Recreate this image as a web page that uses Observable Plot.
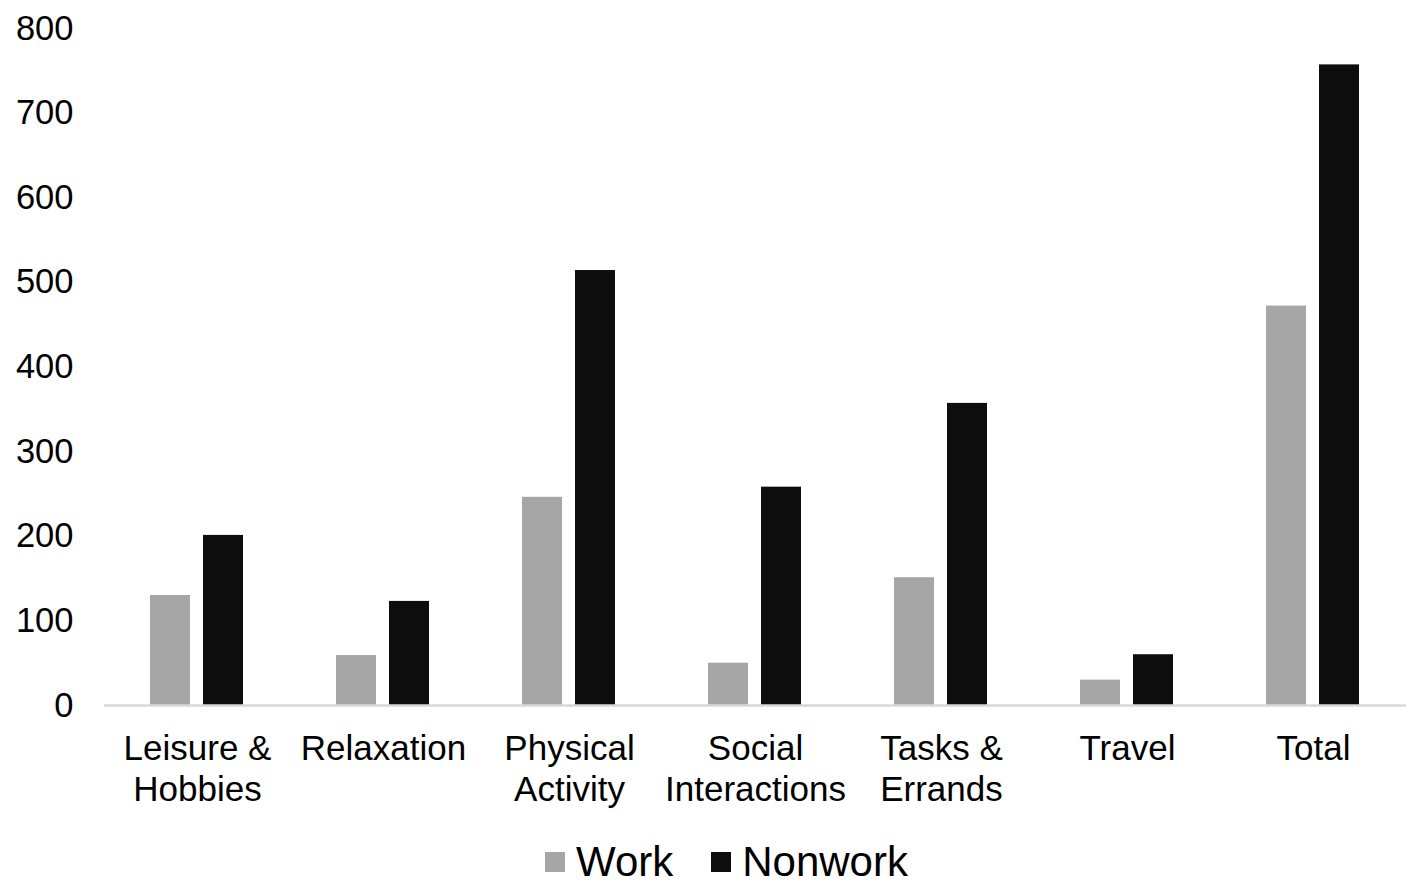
<!DOCTYPE html>
<html>
<head>
<meta charset="utf-8">
<script src="https://cdn.jsdelivr.net/npm/d3@7"></script>
<script src="https://cdn.jsdelivr.net/npm/@observablehq/plot@0.6"></script>
<style>
  html, body { margin: 0; padding: 0; background: #fff; }
  #chart svg { display: block; }
  .lg-swatch { margin-right: 38px !important; }
  .lg-swatch > svg { margin-right: 11px !important; }
  #legend { margin-top: 13px; margin-left: 545px; }
</style>
</head>
<body>
<div id="chart"></div>
<div id="legend"></div>
<script>
const categories = ["Leisure & Hobbies", "Relaxation", "Physical Activity", "Social Interactions", "Tasks & Errands", "Travel", "Total"];
const tickLabels = ["Leisure &\nHobbies", "Relaxation", "Physical\nActivity", "Social\nInteractions", "Tasks &\nErrands", "Travel", "Total"];
const series = ["Work", "Nonwork"];
const work = [130, 59, 246, 50, 151, 30, 472];
const nonwork = [201, 123, 514, 258, 357, 60, 757];
const yTicks = [0, 100, 200, 300, 400, 500, 600, 700, 800];
const colors = ["#a6a6a6", "#0d0d0d"];

const data = [];
categories.forEach((c, i) => {
  data.push({category: c, series: "Work", value: work[i]});
  data.push({category: c, series: "Nonwork", value: nonwork[i]});
});
const labelOf = new Map(categories.map((c, i) => [c, tickLabels[i]]));

const font = "'Liberation Sans', Arial, Helvetica, sans-serif";

const chart = Plot.plot({
  width: 1418,
  height: 825,
  marginTop: 28,
  marginBottom: 120,
  marginLeft: 104,
  marginRight: 12,
  style: {fontFamily: font, fontSize: "34px", color: "#000", background: "#fff"},
  fx: {domain: categories, padding: 0},
  x: {domain: series, paddingInner: 0.24, paddingOuter: 0.87, align: 0.5, axis: null},
  y: {domain: [0, 800]},
  color: {domain: series, range: colors},
  marks: [
    Plot.barY(data, {fx: "category", x: "series", y: "value", fill: "series"}),
    Plot.ruleY([0], {stroke: "#d9d9d9", strokeWidth: 2.5}),
    Plot.axisY({ticks: yTicks, tickSize: 0, tickPadding: 31, label: null, fontSize: 34.5, fill: "#000"}),
    Plot.axisFx({anchor: "bottom", tickSize: 0, tickPadding: 25, label: null, fontSize: 35, lineHeight: 1.17, fill: "#000", tickFormat: d => labelOf.get(d)})
  ]
});
document.getElementById("chart").appendChild(chart);

const legend = Plot.legend({
  color: {domain: series, range: colors},
  legend: "swatches",
  swatchSize: 20,
  className: "lg",
  style: {fontFamily: font, fontSize: "42px", color: "#000"}
});
document.getElementById("legend").appendChild(legend);
</script>
</body>
</html>
